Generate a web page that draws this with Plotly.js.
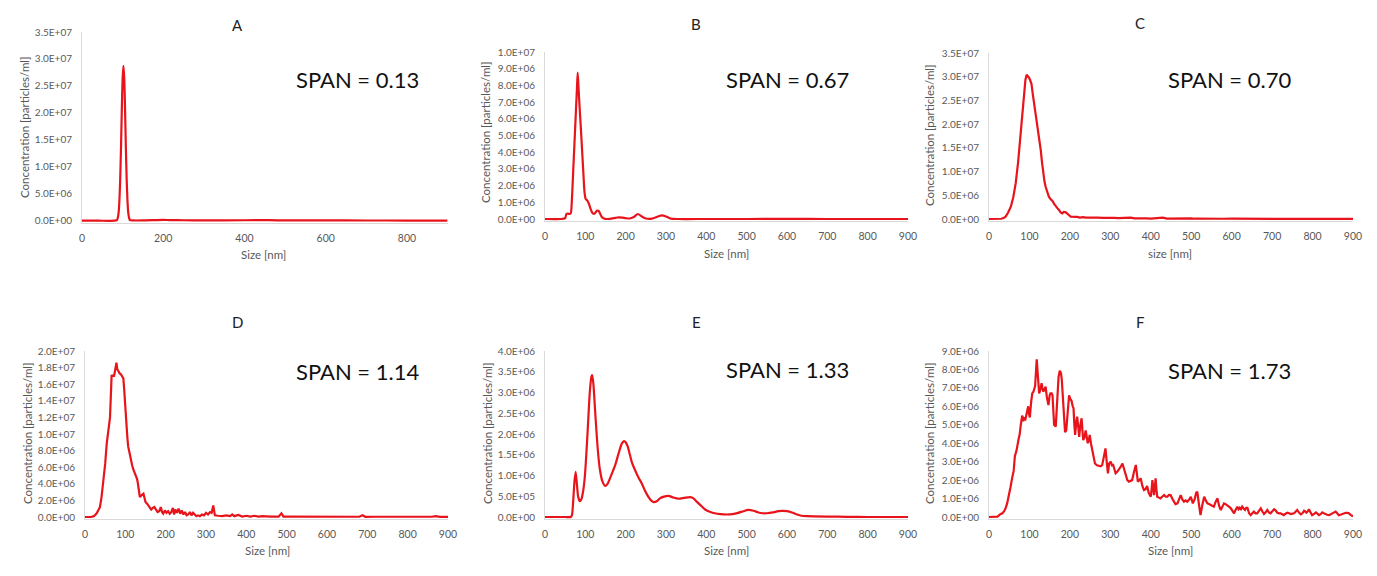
<!DOCTYPE html>
<html>
<head>
<meta charset="utf-8">
<script src="https://cdn.plot.ly/plotly-3.0.1.min.js"></script>
<style>html,body{margin:0;padding:0;background:#fff;}#chart{width:1377px;height:576px;}</style>
</head>
<body>
<div id="chart"></div>
<script>
// ---- Data (size in nm, concentration in units of 1E+06 particles/ml) ----
const sizeA = [0, 40, 80, 86, 88, 90, 92, 94, 96, 98,
  100, 102, 104, 106, 108, 110, 112, 114, 116, 118,
  125, 150, 200, 215, 250, 300, 400, 460, 500, 600,
  700, 800, 900];
const concA = [0, 0, 0, 0.1, 0.5, 1.4, 3.6, 7.6, 13.5, 20.6,
  26.4, 28.7, 26.4, 20.6, 13.5, 7.6, 3.6, 1.4, 0.5, 0.1,
  0.05, 0.05, 0.15, 0.12, 0.08, 0.06, 0.08, 0.1, 0.05, 0.05,
  0.04, 0.03, 0.02];

const sizeB = [0, 40, 50, 53, 57, 61, 64, 67, 70, 73,
  76, 79, 81, 83, 86, 89, 92, 95, 98, 101,
  105, 109, 113, 117, 121, 125, 129, 133, 137, 141,
  146, 155, 165, 175, 183, 192, 200, 210, 220, 230,
  240, 250, 265, 280, 290, 300, 312, 330, 400, 500,
  600, 700, 800, 900];
const concB = [0, 0, 0.05, 0.3, 0.32, 0.3, 0.35, 1.3, 2.9, 4.5,
  6.1, 7.7, 8.76, 7.9, 6.6, 5.4, 4.1, 2.8, 1.6, 1.2,
  1.1, 0.9, 0.6, 0.38, 0.3, 0.38, 0.5, 0.48, 0.3, 0.12,
  0.03, 0, 0.02, 0.07, 0.1, 0.08, 0.05, 0.03, 0.12, 0.3,
  0.15, 0.03, 0.02, 0.15, 0.22, 0.15, 0.02, 0, 0, 0,
  0.01, 0, 0, 0];

const sizeC = [0, 20, 30, 36, 41, 47, 54, 60, 66, 72,
  78, 83, 87, 90, 93, 96, 99, 102, 105, 108,
  111, 114, 117, 120, 122, 124, 126, 128, 131, 134,
  137, 140, 144, 148, 152, 157, 161, 165, 169, 173,
  177, 181, 185, 190, 194, 198, 202, 206, 212, 218,
  225, 232, 240, 250, 260, 270, 280, 290, 300, 310,
  320, 330, 340, 350, 360, 370, 380, 390, 400, 410,
  420, 430, 440, 450, 460, 470, 480, 490, 500, 510,
  520, 540, 560, 580, 600, 625, 650, 700, 750, 800,
  850, 900];
const concC = [0, 0, 0.05, 0.2, 0.5, 1.3, 2.6, 4.6, 7.5, 12,
  18, 23.5, 27, 29.3, 30.4, 30.2, 29.8, 29.2, 28.5, 26.5,
  24.8, 23.5, 21.6, 19.5, 18.3, 17.6, 16.5, 14.5, 12, 9.6,
  8.0, 6.8, 5.6, 4.7, 4.2, 3.8, 3.2, 2.6, 2.3, 1.9,
  1.4, 1.2, 1.5, 1.4, 1.0, 0.8, 0.5, 0.5, 0.4, 0.45,
  0.3, 0.4, 0.3, 0.35, 0.25, 0.3, 0.22, 0.28, 0.2, 0.25,
  0.18, 0.2, 0.15, 0.3, 0.12, 0.18, 0.12, 0.15, 0.1, 0.15,
  0.12, 0.3, 0.1, 0.12, 0.08, 0.12, 0.07, 0.1, 0.15, 0.06,
  0.08, 0.06, 0.1, 0.05, 0.06, 0.04, 0.03, 0.03, 0.02, 0.02,
  0.01, 0.01];

const sizeD = [0, 15, 22, 29, 33, 37, 41, 45, 50, 54,
  58, 62, 64, 66, 69, 72, 74, 76, 78, 80,
  83, 86, 89, 92, 95, 97, 99, 101, 103, 105,
  107, 110, 114, 117, 120, 123, 126, 129, 131, 134,
  136, 140, 145, 148, 150, 154, 157, 160, 164, 168,
  172, 176, 180, 184, 188, 191, 194, 198, 202, 206,
  210, 214, 218, 221, 224, 228, 232, 236, 240, 244,
  248, 252, 256, 260, 264, 268, 272, 276, 280, 285,
  290, 295, 300, 305, 310, 314, 318, 322, 330, 340,
  350, 360, 365, 370, 380, 390, 400, 410, 420, 430,
  440, 450, 460, 470, 480, 487, 492, 500, 520, 550,
  580, 600, 620, 640, 660, 680, 688, 695, 720, 760,
  800, 830, 860, 870, 880, 900];
const concD = [0, 0, 0.1, 0.44, 0.8, 1.2, 2.4, 4.0, 6.4, 8.9,
  10.5, 12.0, 14.5, 17.1, 17.0, 17.0, 17.5, 18.0, 18.6, 17.8,
  17.5, 17.3, 17.2, 17.0, 16.7, 15.5, 13.7, 12.2, 10.9, 9.6,
  8.5, 7.7, 6.9, 6.2, 5.7, 5.4, 5.1, 4.6, 4.1, 3.2,
  2.4, 2.6, 2.8, 2.2, 1.8, 1.6, 1.4, 1.1, 0.9, 1.1,
  1.2, 0.9, 0.6, 0.7, 1.2, 0.6, 0.4, 0.8, 0.5, 0.7,
  0.4, 0.6, 1.1, 0.3, 0.9, 0.5, 1.0, 0.4, 0.8, 0.3,
  0.6, 0.2, 0.3, 0.6, 0.2, 0.5, 0.3, 0.1, 0.2, 0.1,
  0.3, 0.2, 0.5, 0.3, 0.6, 0.5, 1.4, 0.2, 0.15, 0.1,
  0.2, 0.1, 0.3, 0.1, 0.25, 0.05, 0.15, 0.05, 0.15, 0.05,
  0.1, 0.05, 0.05, 0.05, 0.05, 0.45, 0.05, 0.05, 0.05, 0.03,
  0.03, 0.05, 0.02, 0.02, 0.03, 0.03, 0.2, 0.02, 0.03, 0.02,
  0.05, 0.02, 0.03, 0.1, 0.02, 0.02];

const sizeE = [0, 50, 64, 67, 70, 73, 76, 79, 82, 86,
  90, 95, 99, 103, 107, 111, 115, 117, 120, 124,
  128, 132, 136, 142, 149, 155, 161, 168, 174, 180,
  186, 191, 196, 200, 205, 210, 215, 221, 227, 233,
  240, 248, 256, 263, 269, 277, 285, 295, 306, 318,
  331, 345, 360, 368, 376, 387, 397, 410, 421, 435,
  450, 465, 479, 492, 504, 517, 529, 540, 550, 565,
  578, 590, 600, 612, 625, 636, 650, 700, 750, 800,
  900];
const concE = [0, 0, 0, 0.05, 0.4, 0.85, 1.09, 0.8, 0.5, 0.38,
  0.42, 0.65, 1.0, 1.6, 2.3, 3.0, 3.38, 3.42, 3.2, 2.6,
  2.0, 1.5, 1.15, 0.87, 0.75, 0.8, 0.93, 1.1, 1.25, 1.45,
  1.65, 1.78, 1.83, 1.8, 1.7, 1.52, 1.33, 1.18, 1.05, 0.93,
  0.81, 0.63, 0.49, 0.4, 0.36, 0.38, 0.45, 0.49, 0.51, 0.47,
  0.44, 0.46, 0.48, 0.45, 0.37, 0.27, 0.18, 0.12, 0.09, 0.07,
  0.06, 0.07, 0.1, 0.14, 0.17, 0.15, 0.11, 0.09, 0.09, 0.11,
  0.14, 0.15, 0.14, 0.11, 0.06, 0.03, 0.02, 0.01, 0.005, 0,
  0];

const sizeF = [0, 10, 21, 28, 33, 37, 41, 45, 49, 53,
  58, 61, 64, 68, 73, 76, 78, 82, 85, 87,
  90, 92, 95, 97, 99, 101, 104, 107, 110, 114,
  118, 121, 124, 127, 130, 132, 134, 137, 140, 143,
  147, 150, 152, 155, 157, 159, 161, 165, 169, 172,
  175, 178, 180, 183, 185, 188, 191, 194, 198, 201,
  204, 207, 209, 211, 213, 216, 218, 221, 223, 226,
  229, 231, 233, 236, 239, 242, 244, 247, 249, 252,
  255, 258, 262, 267, 272, 276, 280, 284, 288, 291,
  294, 297, 301, 304, 307, 310, 313, 317, 321, 325,
  330, 334, 338, 342, 346, 350, 354, 358, 361, 363,
  366, 368, 372, 375, 379, 383, 387, 391, 395, 400,
  402, 404, 406, 408, 410, 412, 414, 416, 420, 424,
  428, 433, 437, 441, 445, 449, 453, 457, 461, 466,
  470, 474, 478, 482, 486, 490, 495, 499, 504, 509,
  512, 515, 519, 523, 527, 532, 536, 540, 544, 548,
  552, 556, 560, 565, 569, 573, 577, 581, 585, 589,
  594, 598, 602, 606, 610, 614, 617, 620, 623, 626,
  630, 633, 636, 639, 643, 647, 651, 655, 659, 663,
  668, 672, 676, 680, 684, 688, 692, 696, 700, 705,
  709, 713, 717, 721, 725, 729, 733, 738, 742, 746,
  750, 754, 758, 762, 766, 771, 775, 779, 782, 785,
  788, 791, 795, 799, 803, 808, 812, 816, 820, 824,
  828, 832, 836, 841, 845, 849, 853, 857, 861, 865,
  869, 874, 878, 882, 886, 890, 894, 898, 900];
const concF = [0, 0, 0.02, 0.15, 0.2, 0.3, 0.47, 0.75, 1.1, 1.6,
  2.2, 2.5, 3.3, 3.6, 4.2, 4.5, 4.9, 5.5, 5.2, 5.35,
  5.3, 5.5, 5.9, 6.0, 5.6, 5.4, 6.2, 6.7, 6.8, 7.1,
  8.55, 7.5, 6.7, 6.9, 7.25, 7.0, 6.8, 6.9, 7.07, 6.5,
  6.07, 6.6, 6.7, 6.7, 6.6, 5.8, 5.0, 4.9, 6.7, 7.6,
  7.93, 7.8, 7.43, 6.3, 5.44, 4.6, 4.7, 5.5, 6.6, 6.4,
  6.3, 6.0, 5.9, 5.0, 4.45, 5.2, 5.44, 4.8, 4.35, 5.0,
  5.35, 4.7, 4.17, 4.3, 4.7, 4.3, 4.0, 4.2, 4.45, 4.0,
  3.63, 3.2, 2.9, 2.8, 2.77, 2.75, 2.82, 3.2, 3.72, 3.0,
  2.37, 2.9, 3.0, 2.8, 2.82, 2.6, 2.37, 2.45, 2.55, 2.7,
  2.9, 2.6, 2.19, 2.0, 1.92, 1.95, 2.0, 2.4, 2.6, 2.82,
  2.3, 1.92, 2.0, 2.1, 1.7, 1.46, 1.5, 1.68, 1.3, 1.1,
  1.5, 2.0, 1.6, 1.19, 1.6, 2.1, 1.5, 1.1, 1.05, 1.01,
  1.1, 1.19, 1.1, 1.1, 1.2, 1.19, 1.0, 0.83, 0.7, 0.74,
  0.95, 1.19, 0.95, 0.83, 0.9, 0.83, 0.95, 1.1, 0.74, 1.0,
  1.3, 1.37, 0.7, 0.1, 0.6, 1.1, 0.9, 0.74, 0.7, 0.65,
  0.6, 0.56, 0.8, 1.01, 0.6, 0.38, 0.55, 0.74, 0.7, 0.65,
  0.55, 0.47, 0.3, 0.2, 0.4, 0.56, 0.42, 0.5, 0.42, 0.56,
  0.45, 0.38, 0.5, 0.5, 0.2, 0.1, 0.2, 0.29, 0.2, 0.2,
  0.35, 0.47, 0.3, 0.16, 0.25, 0.38, 0.25, 0.2, 0.3, 0.42,
  0.35, 0.23, 0.2, 0.2, 0.15, 0.1, 0.18, 0.23, 0.2, 0.16,
  0.18, 0.2, 0.28, 0.38, 0.25, 0.14, 0.2, 0.34, 0.3, 0.23,
  0.3, 0.42, 0.25, 0.1, 0.15, 0.25, 0.18, 0.1, 0.15, 0.25,
  0.2, 0.14, 0.12, 0.1, 0.15, 0.2, 0.25, 0.29, 0.2, 0.1,
  0.12, 0.16, 0.2, 0.23, 0.22, 0.2, 0.12, 0.05, 0.03];

// Tick values (in 1E+06 units) and their labels
const yTicksA = [0, 5, 10, 15, 20, 25, 30, 35];
const yLabelsA = ['0.0E+00','5.0E+06','1.0E+07','1.5E+07','2.0E+07','2.5E+07','3.0E+07','3.5E+07'];
const yTicksB = [0, 1, 2, 3, 4, 5, 6, 7, 8, 9, 10];
const yLabelsB = ['0.0E+00','1.0E+06','2.0E+06','3.0E+06','4.0E+06','5.0E+06','6.0E+06','7.0E+06','8.0E+06','9.0E+06','1.0E+07'];
const yTicksC = [0, 5, 10, 15, 20, 25, 30, 35];
const yLabelsC = ['0.0E+00','5.0E+06','1.0E+07','1.5E+07','2.0E+07','2.5E+07','3.0E+07','3.5E+07'];
const yTicksD = [0, 2, 4, 6, 8, 10, 12, 14, 16, 18, 20];
const yLabelsD = ['0.0E+00','2.0E+06','4.0E+06','6.0E+06','8.0E+06','1.0E+07','1.2E+07','1.4E+07','1.6E+07','1.8E+07','2.0E+07'];
const yTicksE = [0, 0.5, 1, 1.5, 2, 2.5, 3, 3.5, 4];
const yLabelsE = ['0.0E+00','5.0E+05','1.0E+06','1.5E+06','2.0E+06','2.5E+06','3.0E+06','3.5E+06','4.0E+06'];
const yTicksF = [0, 1, 2, 3, 4, 5, 6, 7, 8, 9];
const yLabelsF = ['0.0E+00','1.0E+06','2.0E+06','3.0E+06','4.0E+06','5.0E+06','6.0E+06','7.0E+06','8.0E+06','9.0E+06'];

const panelTitles = ['A', 'B', 'C', 'D', 'E', 'F'];
const spanTexts = ['SPAN = 0.13', 'SPAN = 0.67', 'SPAN = 0.70', 'SPAN = 1.14', 'SPAN = 1.33', 'SPAN = 1.73'];
const xTitles = ['Size [nm]', 'Size [nm]', 'size [nm]', 'Size [nm]', 'Size [nm]', 'Size [nm]'];
const yTitle = 'Concentration [particles/ml]';

// ---- Layout geometry (pixels) ----
const W = 1377, H = 576;
const FONT = 'Lato, "Open Sans", sans-serif';
const RED = '#e8141b';
const GREY = '#595959';
const series = [
  {x: sizeA, y: concA, yt: yTicksA, yl: yLabelsA, ymax: 35, dx: 200, shape: 'spline'},
  {x: sizeB, y: concB, yt: yTicksB, yl: yLabelsB, ymax: 10, dx: 100, shape: 'spline'},
  {x: sizeC, y: concC, yt: yTicksC, yl: yLabelsC, ymax: 35, dx: 100, shape: 'linear'},
  {x: sizeD, y: concD, yt: yTicksD, yl: yLabelsD, ymax: 20, dx: 100, shape: 'linear'},
  {x: sizeE, y: concE, yt: yTicksE, yl: yLabelsE, ymax: 4, dx: 100, shape: 'spline'},
  {x: sizeF, y: concF, yt: yTicksF, yl: yLabelsF, ymax: 9, dx: 100, shape: 'linear'}
];
const geom = [
  {x0: 82, x1: 447.6, top: 32, zero: 220.7, tx: 237, ty: 25, sx: 357, sy: 79, ax: 263, ay: 255, yx: 24, yy: 127},
  {x0: 545, x1: 908, top: 52, zero: 219, tx: 696, ty: 24, sx: 787, sy: 79, ax: 726, ay: 253, yx: 486, yy: 132},
  {x0: 989, x1: 1353, top: 53, zero: 219, tx: 1140, ty: 23, sx: 1229, sy: 79, ax: 1170, ay: 253, yx: 929, yy: 135},
  {x0: 85, x1: 448, top: 351, zero: 517, tx: 237, ty: 322, sx: 357, sy: 371, ax: 267, ay: 550, yx: 27, yy: 433},
  {x0: 545, x1: 908, top: 351, zero: 517, tx: 696, ty: 322, sx: 787, sy: 369, ax: 726, ay: 550, yx: 487, yy: 433},
  {x0: 989, x1: 1353, top: 351, zero: 517, tx: 1140, ty: 322, sx: 1229, sy: 370, ax: 1170, ay: 550, yx: 929, yy: 433}
];

const px = v => v / W;
const py = v => 1 - v / H;
const PAD = 0.012;

const data = [];
const layout = {
  width: W, height: H,
  margin: {l: 0, r: 0, t: 0, b: 0},
  paper_bgcolor: '#fff', plot_bgcolor: '#fff',
  showlegend: false,
  font: {family: FONT, color: GREY},
  annotations: []
};

series.forEach((s, i) => {
  const g = geom[i];
  const n = i + 1;
  const xa = 'xaxis' + (n === 1 ? '' : n);
  const ya = 'yaxis' + (n === 1 ? '' : n);
  const h = g.zero - g.top;
  data.push({
    type: 'scatter', mode: 'lines',
    x: s.x, y: s.y,
    xaxis: 'x' + (n === 1 ? '' : n), yaxis: 'y' + (n === 1 ? '' : n),
    line: {color: RED, width: 2.2, shape: s.shape, smoothing: 0.6},
    hoverinfo: 'skip'
  });
  layout[xa] = {
    domain: [px(g.x0), px(g.x1)],
    anchor: 'y' + (n === 1 ? '' : n),
    range: [0, 900], dtick: s.dx, tick0: 0,
    showgrid: false, zeroline: false,
    showline: true, linecolor: '#d9d9d9', linewidth: 1,
    ticks: '', ticklabelstandoff: 5,
    tickfont: {family: FONT, size: 10.5, color: GREY},
    fixedrange: true
  };
  layout[ya] = {
    domain: [py(g.zero + h * PAD), py(g.top)],
    anchor: 'x' + (n === 1 ? '' : n),
    range: [-s.ymax * PAD, s.ymax],
    tickmode: 'array', tickvals: s.yt, ticktext: s.yl,
    showgrid: false, zeroline: false,
    showline: true, linecolor: '#d9d9d9', linewidth: 1,
    ticks: '', ticklabelstandoff: 7,
    tickfont: {family: FONT, size: 10, color: GREY},
    fixedrange: true
  };
  layout.annotations.push(
    {xref: 'paper', yref: 'paper', x: px(g.tx), y: py(g.ty), text: panelTitles[i], showarrow: false,
     xanchor: 'center', yanchor: 'middle', font: {family: FONT, size: 15, color: '#222'}},
    {xref: 'paper', yref: 'paper', x: px(g.sx), y: py(g.sy), text: spanTexts[i], showarrow: false,
     xanchor: 'center', yanchor: 'middle', font: {family: FONT, size: 22, color: '#111'}},
    {xref: 'paper', yref: 'paper', x: px(g.ax), y: py(g.ay), text: xTitles[i], showarrow: false,
     xanchor: 'center', yanchor: 'middle', font: {family: FONT, size: 11.5, color: GREY}},
    {xref: 'paper', yref: 'paper', x: px(g.yx), y: py(g.yy), text: yTitle, showarrow: false, textangle: -90,
     xanchor: 'center', yanchor: 'middle', font: {family: FONT, size: 11.5, color: GREY}}
  );
});

Plotly.newPlot('chart', data, layout, {staticPlot: true, displayModeBar: false});
</script>
</body>
</html>
